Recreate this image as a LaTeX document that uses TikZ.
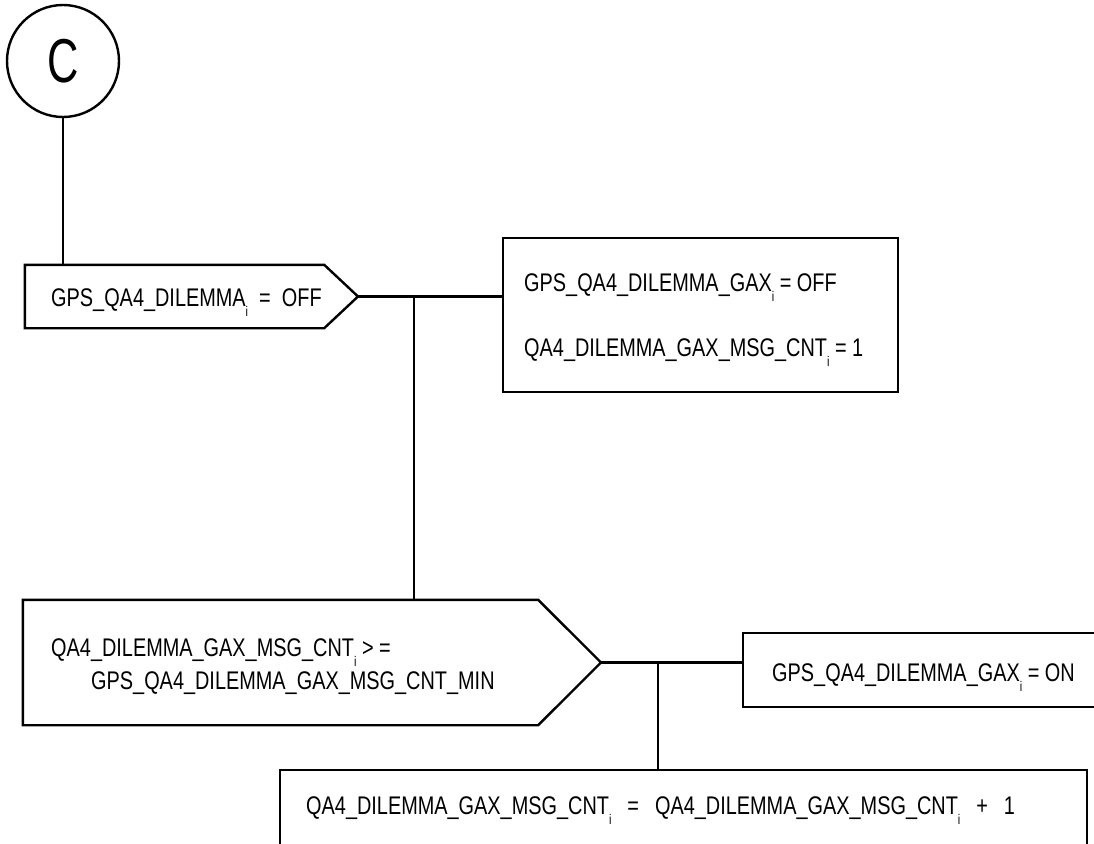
\documentclass[tikz,border=0pt]{standalone}
\usepackage{fontspec}
\setmainfont{Liberation Sans}[FakeStretch=0.78]
\newfontfamily\cfont{Liberation Sans}[FakeStretch=0.7]
\newcommand\subi{\raisebox{-10pt}{\fontsize{14}{14}\selectfont i}}
\begin{document}
\begin{tikzpicture}[x=1pt,y=-1pt,line width=2.4pt,
  every node/.style={font=\fontsize{25.5}{33}\selectfont, inner sep=0pt},
  lbl/.style={anchor=base west},
  shapebox/.style={draw, rectangle, line width=2.4pt}]
\useasboundingbox (0,0) rectangle (1094,843);
\clip (0,0) rectangle (1094,843);

% connector circle
\node[circle, draw, minimum size=112pt, font=\cfont\fontsize{62}{62}\selectfont] (C) at (63,61) {C};

% decision 1
\node[minimum width=297pt, minimum height=61pt] (d1) at (174.5,296.5) {};
\coordinate (d1tip) at (358,296.5);
\draw (d1.north west) -- (d1.north east) -- (d1tip) -- (d1.south east) -- (d1.south west) -- cycle;
\node[lbl] (t1) at (50,306) {GPS\_QA4\_DILEMMA\subi\ \ =\ \ OFF};

% box 1
\node[shapebox, minimum width=395pt, minimum height=154pt] (b1) at (700.5,315) {};
\node[lbl] (t2) at (523,291.5) {GPS\_QA4\_DILEMMA\_GAX\subi\ = OFF};
\node[lbl] (t3) at (523,356.5) {QA4\_DILEMMA\_GAX\_MSG\_CNT\subi\ = 1};

% decision 2
\node[minimum width=513pt, minimum height=123pt] (d2) at (280.5,662.5) {};
\coordinate (d2tip) at (601,662.5);
\draw (d2.north west) -- (d2.north east) -- (d2tip) -- (d2.south east) -- (d2.south west) -- cycle;
\node[lbl] (t4) at (50,656) {QA4\_DILEMMA\_GAX\_MSG\_CNT\subi\ > =};
\node[lbl] (t5) at (90,689) {GPS\_QA4\_DILEMMA\_GAX\_MSG\_CNT\_MIN};

% box ON
\node[shapebox, minimum width=377pt, minimum height=74pt] (b2) at (931.5,670) {};
\node[lbl] (t6) at (771,681) {GPS\_QA4\_DILEMMA\_GAX\subi\ = ON};

% box increment
\node[shapebox, minimum width=807pt, minimum height=130pt] (b3) at (683.5,835) {};
\node[lbl] (t7) at (305,814) {QA4\_DILEMMA\_GAX\_MSG\_CNT\subi\hspace{16pt}=\hspace{16pt}QA4\_DILEMMA\_GAX\_MSG\_CNT\subi\hspace{16pt}+\hspace{16pt}1};

% connectors
\draw (C.south) -- (C.south |- d1.north);
\draw (d1tip) -- (d1tip -| b1.west);
\coordinate (j1) at (414,296.5);
\draw (j1) -- (j1 |- d2.north);
\draw (d2tip) -- (d2tip -| b2.west);
\coordinate (j2) at (658,662.5);
\draw (j2) -- (j2 |- b3.north);
\end{tikzpicture}
\end{document}
